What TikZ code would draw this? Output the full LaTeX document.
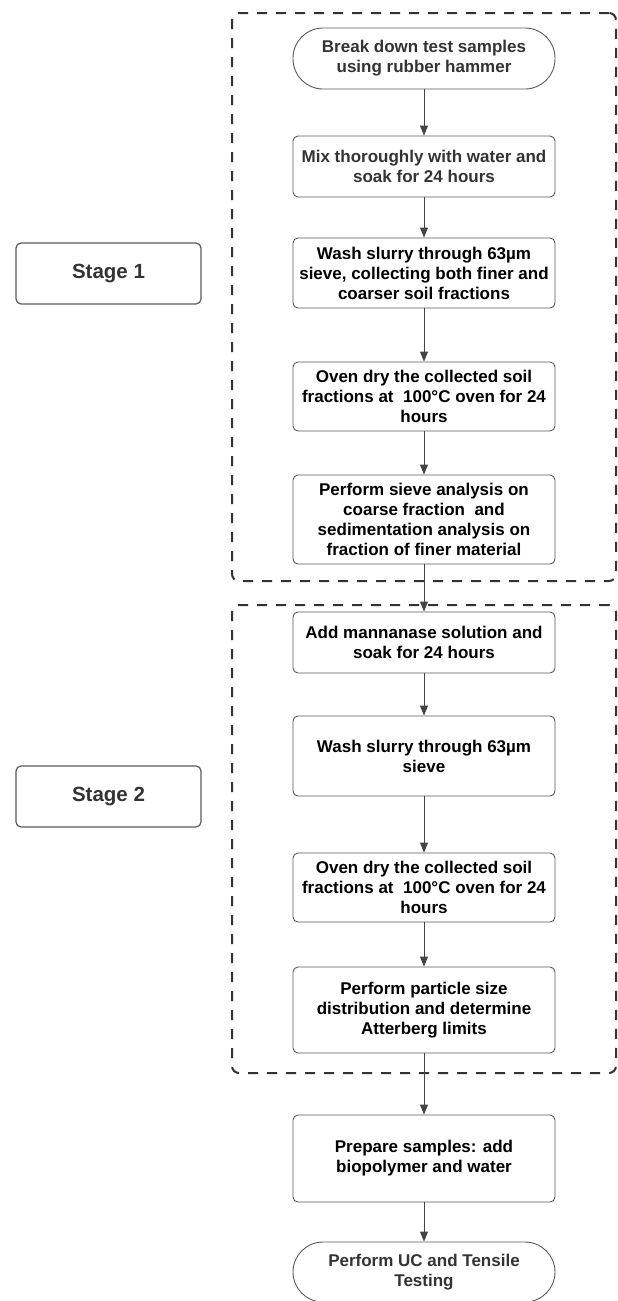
\documentclass[tikz,border=0pt]{standalone}
\usepackage{fontspec}
\setmainfont{Liberation Sans}
\usetikzlibrary{arrows.meta}
\definecolor{txtgray}{HTML}{333333}
\definecolor{boxline}{HTML}{5A5A5A}
\definecolor{arrowc}{HTML}{444444}
\definecolor{framec}{HTML}{333333}
\tikzset{
  stepbox/.style={draw=boxline, line width=0.9pt, rounded corners=5pt, minimum width=262pt, inner sep=0pt, align=center, font=\fontsize{17}{20}\selectfont\bfseries, text=black},
  pillbox/.style={stepbox, rounded corners=30pt, text=txtgray},
  stagebox/.style={draw=boxline, line width=1.2pt, rounded corners=5pt, minimum width=185pt, minimum height=61pt, inner sep=0pt, font=\fontsize{20.5}{24}\selectfont\bfseries, text=txtgray},
  frame/.style={draw=framec, line width=2pt, dash pattern=on 10pt off 9pt, rounded corners=7pt, minimum width=384pt, inner sep=0pt},
  flow/.style={draw=arrowc, line width=0.9pt, -{Triangle[width=8pt,length=10pt]}}
}
\begin{document}
\begin{tikzpicture}[x=1pt,y=-1pt]
\useasboundingbox (0,0) rectangle (618,1301);
\begin{scope}
\clip (0,0) rectangle (618,1301);
% frames
\node[frame, minimum height=568pt] (f1) at (424,297) {};
\node[frame, minimum height=468pt] (f2) at (424,839) {};
% stage labels
\node[stagebox] (st1) at (108.5,273.5) {Stage 1};
\node[stagebox] (st2) at (108.5,796.5) {Stage 2};
% steps
\node[pillbox, minimum height=61pt] (b1) at (424,58.5) {Break down test samples\\using rubber hammer};
\node[stepbox, minimum height=61pt, text=txtgray] (b2) at (424,166.5) {Mix thoroughly with water and\\soak for 24 hours};
\node[stepbox, minimum height=70pt] (b3) at (424,273) {Wash slurry through 63µm\\sieve, collecting both finer and\\coarser soil fractions};
\node[stepbox, minimum height=69pt] (b4) at (424,396.5) {Oven dry the collected soil\\fractions at\ \ 100°C oven for 24\\hours};
\node[stepbox, minimum height=89pt] (b5) at (424,519.5) {Perform sieve analysis on\\coarse fraction\ \ and\\sedimentation analysis on\\fraction of finer material};
\node[stepbox, minimum height=61pt] (b6) at (424,642.5) {Add mannanase solution and\\soak for 24 hours};
\node[stepbox, minimum height=80pt] (b7) at (424,756) {Wash slurry through 63µm\\sieve};
\node[stepbox, minimum height=69pt] (b8) at (424,887.5) {Oven dry the collected soil\\fractions at\ \ 100°C oven for 24\\hours};
\node[stepbox, minimum height=86pt] (b9) at (424,1010) {Perform particle size\\distribution and determine\\Atterberg limits};
\node[stepbox, minimum height=87pt] (b10) at (424,1158.5) {Prepare samples: add\\biopolymer and water};
\node[pillbox, minimum height=60pt] (b11) at (424,1272) {Perform UC and Tensile\\Testing};
% connectors
\draw[flow] (b1.south) -- (b2.north);
\draw[flow] (b2.south) -- (b3.north);
\draw[flow] (b3.south) -- (b4.north);
\draw[flow] (b4.south) -- (b5.north);
\draw[flow] (b5.south) -- (b6.north);
\draw[flow] (b6.south) -- (b7.north);
\draw[flow] (b7.south) -- (b8.north);
\draw[flow] (b8.south) -- (b9.north);
\draw[flow] (b9.south) -- (b10.north);
\draw[flow] (b10.south) -- (b11.north);
\end{scope}
\end{tikzpicture}
\end{document}
